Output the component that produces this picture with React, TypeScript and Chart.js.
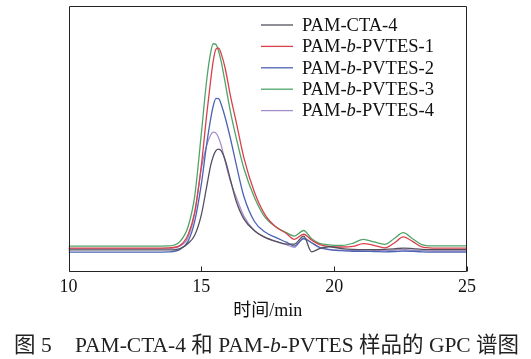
import React, { useEffect, useRef } from 'react';
import { Chart, registerables } from 'chart.js';

Chart.register(...registerables);

// elution time (min)
const times = [10, 13, 13.8, 14.2, 14.5, 14.75, 15.0, 15.2, 15.35, 15.45, 15.55, 15.65, 15.75, 15.9, 16.1, 16.3, 16.6, 17.0, 17.4, 17.8, 18.2, 18.5, 18.85, 19.15, 19.45, 19.8, 20.3, 20.7, 21.1, 21.5, 21.9, 22.25, 22.6, 22.95, 23.3, 23.7, 25];

const pamCta4 = [8.3, 8.3, 8.3, 8.8, 10.7, 13.8, 21.5, 32, 40, 43.5, 45.6, 46.2, 45.5, 42, 34.5, 27, 20, 15.5, 13, 11.5, 10.5, 10.5, 13.5, 7.6, 8.8, 9.5, 8.8, 8.5, 8.4, 8.4, 8.5, 8.7, 9.0, 8.8, 8.5, 8.4, 8.4];
const pvtes1 = [9, 9, 9.1, 10, 14, 22.5, 40, 59, 72, 79.5, 83.8, 84.2, 82, 76.5, 66, 57, 43, 30, 21.5, 17, 14.5, 12.3, 14.2, 12, 10.3, 9.6, 9.4, 9.6, 10.7, 10.0, 9.1, 10.8, 13.2, 11.5, 9.4, 9.0, 9.0];
const pvtes2 = [7.5, 7.5, 7.6, 8.5, 11.5, 19, 33, 48, 57.5, 62.5, 65.3, 65.2, 63, 58, 50, 41, 28.5, 19, 15, 13, 11.2, 9.8, 12.5, 11, 9.3, 8.4, 8, 7.8, 7.8, 7.7, 7.6, 7.7, 7.9, 7.8, 7.6, 7.5, 7.5];
const pvtes3 = [9.7, 9.7, 9.8, 11.5, 17, 28.5, 52, 72, 82.5, 85.8, 85.5, 83, 79, 71, 60, 51, 39, 28, 20.5, 17, 14.8, 13.5, 15.6, 12.5, 10.8, 10.2, 10, 10.8, 12.3, 11.3, 10.4, 12.5, 14.8, 12.5, 10.3, 9.8, 9.8];
const pvtes4 = [8.8, 8.8, 8.9, 9.8, 13, 22, 39, 47.5, 51.5, 52.6, 52.2, 50.5, 47.5, 41.5, 34, 28.5, 21, 15.5, 13, 11.5, 10.3, 9.3, 12.8, 11, 9.2, 8.5, 8.2, 8.1, 8.3, 8.1, 8, 8.2, 8.5, 8.2, 8, 7.9, 7.9];

const seriesLabels = ['PAM-CTA-4', 'PAM-b-PVTES-1', 'PAM-b-PVTES-2', 'PAM-b-PVTES-3', 'PAM-b-PVTES-4'];
const seriesColors = ['#55505e', '#d8404c', '#4a64b2', '#50a468', '#a58fca'];
const seriesValues = [pamCta4, pvtes1, pvtes2, pvtes3, pvtes4];

const xMin = 10;
const xMax = 25;
const xStep = 5;
const xTitle = '时间/min';

const SERIF = "'Liberation Serif', 'Times New Roman', 'Noto Sans CJK SC', serif";

const framePlugin = {
  id: 'frameAndTicks',
  afterDraw(chart: any) {
    const { ctx, chartArea } = chart;
    const l = Math.round(chartArea.left) + 0.5;
    const r = Math.round(chartArea.right) - 0.5;
    const t = Math.round(chartArea.top) + 0.5;
    const b = Math.round(chartArea.bottom) - 0.5;
    ctx.save();
    ctx.strokeStyle = '#222';
    ctx.lineWidth = 1;
    ctx.beginPath();
    ctx.moveTo(l, t);
    ctx.lineTo(r, t);
    ctx.lineTo(r, b);
    ctx.lineTo(l, b);
    ctx.closePath();
    ctx.stroke();
    const xs = chart.scales.x;
    ctx.beginPath();
    xs.ticks.forEach((tk: any) => {
      const px = Math.round(xs.getPixelForValue(tk.value)) + 0.5;
      ctx.moveTo(px, b);
      ctx.lineTo(px, b - 5);
    });
    ctx.stroke();
    ctx.restore();
  },
};

const legendPlugin = {
  id: 'serifLegend',
  afterDraw(chart: any) {
    const { ctx } = chart;
    const lineX0 = 261;
    const lineX1 = 293;
    const textX = 302;
    const y0 = 25;
    const dy = 21.4;
    ctx.save();
    chart.data.datasets.forEach((ds: any, i: number) => {
      const y = y0 + i * dy;
      ctx.strokeStyle = ds.borderColor;
      ctx.lineWidth = 1.3;
      ctx.beginPath();
      ctx.moveTo(lineX0, y);
      ctx.lineTo(lineX1, y);
      ctx.stroke();
      ctx.fillStyle = '#111';
      ctx.textBaseline = 'middle';
      ctx.textAlign = 'left';
      const label: string = ds.label;
      const idx = label.indexOf('-b-');
      let parts: { s: string; it: boolean }[];
      if (idx >= 0) {
        parts = [
          { s: label.slice(0, idx + 1), it: false },
          { s: 'b', it: true },
          { s: label.slice(idx + 2), it: false },
        ];
      } else {
        parts = [{ s: label, it: false }];
      }
      let x = textX;
      parts.forEach((p) => {
        ctx.font = (p.it ? 'italic ' : '') + '18.5px ' + SERIF;
        ctx.fillText(p.s, x, y + 1);
        x += ctx.measureText(p.s).width;
      });
    });
    ctx.restore();
  },
};

export default function App() {
  const ref = useRef<HTMLCanvasElement | null>(null);

  useEffect(() => {
    if (!ref.current) return;
    const chart = new Chart(ref.current, {
      type: 'line',
      data: {
        datasets: seriesValues.map((vals, i) => ({
          label: seriesLabels[i],
          data: times.map((t, j) => ({ x: t, y: vals[j] })),
          borderColor: seriesColors[i],
          backgroundColor: seriesColors[i],
          borderWidth: 1.3,
          pointRadius: 0,
          cubicInterpolationMode: 'monotone' as const,
          fill: false,
        })),
      },
      options: {
        responsive: false,
        animation: false,
        devicePixelRatio: 1,
        layout: { padding: { left: 68.5, right: 64, top: 6, bottom: 37 } },
        plugins: {
          legend: { display: false },
          tooltip: { enabled: false },
        },
        scales: {
          x: {
            type: 'linear',
            min: xMin,
            max: xMax,
            ticks: {
              stepSize: xStep,
              color: '#111',
              font: { family: SERIF, size: 18 },
              padding: 4,
              maxRotation: 0,
            },
            grid: { display: false, drawTicks: false },
            border: { display: false },
            title: {
              display: true,
              text: xTitle,
              color: '#111',
              font: { family: SERIF, size: 18 },
              padding: 0,
            },
            afterFit(scale: any) {
              scale.height = 50;
            },
          },
          y: {
            display: false,
            min: 0,
            max: 100,
          },
        },
      },
      plugins: [framePlugin, legendPlugin],
    });
    return () => chart.destroy();
  }, []);

  return (
    <div style={{ position: 'fixed', left: 0, top: 0, width: 531, height: 359, background: '#fff' }}>
      <canvas ref={ref} width={531} height={359} style={{ width: 531, height: 359, display: 'block' }} />
      <div
        style={{
          position: 'absolute',
          left: 14,
          top: 333,
          fontFamily: SERIF,
          fontSize: 21.5,
          lineHeight: '24px',
          color: '#222',
          whiteSpace: 'nowrap',
        }}
      >
        图 5
      </div>
      <div
        style={{
          position: 'absolute',
          left: 75,
          top: 333,
          fontFamily: SERIF,
          fontSize: 21.5,
          lineHeight: '24px',
          color: '#222',
          whiteSpace: 'nowrap',
        }}
      >
        PAM-CTA-4 和 PAM-<i>b</i>-PVTES 样品的 GPC 谱图
      </div>
    </div>
  );
}
